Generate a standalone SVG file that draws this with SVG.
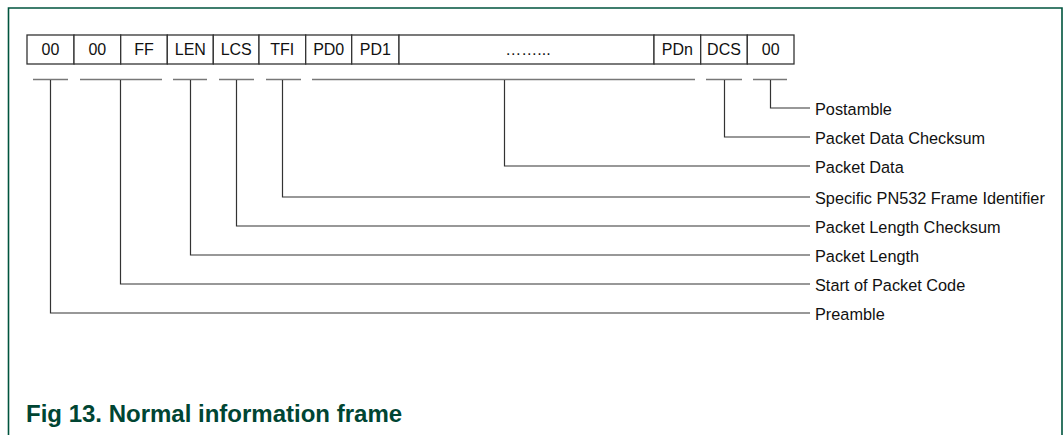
<svg xmlns="http://www.w3.org/2000/svg" width="1064" height="435" viewBox="0 0 1064 435">
<style>
.cell{fill:#fff;stroke:#333;stroke-width:1.3}
.ct{font-family:"Liberation Sans",Arial,sans-serif;font-size:16px;fill:#111;text-anchor:middle}
.ul{stroke:#777;stroke-width:1.6;fill:none}
.ld{stroke:#333;stroke-width:1.2;fill:none}
.lb{font-family:"Liberation Sans",Arial,sans-serif;font-size:16.3px;fill:#111}
.title{font-family:"Liberation Sans",Arial,sans-serif;font-size:24px;font-weight:bold;fill:#004533}
</style>
<rect width="1064" height="435" fill="#fff"/>
<path d="M8.5,435 V8 H1062 V435" fill="none" stroke="#00543e" stroke-width="1.6"/>
<g id="frame">
<g id="c1"><rect class="cell" x="27" y="35" width="47" height="29"/><text class="ct" x="50.5" y="55">00</text></g>
<g id="c2"><rect class="cell" x="74" y="35" width="46.7" height="29"/><text class="ct" x="97.3" y="55">00</text></g>
<g id="c3"><rect class="cell" x="120.7" y="35" width="46.6" height="29"/><text class="ct" x="144" y="55">FF</text></g>
<g id="c4"><rect class="cell" x="167.3" y="35" width="46" height="29"/><text class="ct" x="190.3" y="55">LEN</text></g>
<g id="c5"><rect class="cell" x="213.3" y="35" width="45.7" height="29"/><text class="ct" x="236.2" y="55">LCS</text></g>
<g id="c6"><rect class="cell" x="259" y="35" width="46.7" height="29"/><text class="ct" x="282.3" y="55">TFI</text></g>
<g id="c7"><rect class="cell" x="305.7" y="35" width="46" height="29"/><text class="ct" x="328.7" y="55">PD0</text></g>
<g id="c8"><rect class="cell" x="351.7" y="35" width="47.3" height="29"/><text class="ct" x="375.3" y="55">PD1</text></g>
<g id="c9"><rect class="cell" x="399" y="35" width="255" height="29"/><text class="ct" x="528" y="55">……...</text></g>
<g id="c10"><rect class="cell" x="654" y="35" width="46.7" height="29"/><text class="ct" x="677.3" y="55">PDn</text></g>
<g id="c11"><rect class="cell" x="700.7" y="35" width="46.6" height="29"/><text class="ct" x="724" y="55">DCS</text></g>
<g id="c12"><rect class="cell" x="747.3" y="35" width="46.7" height="29"/><text class="ct" x="770.7" y="55">00</text></g>
</g>
<g id="connectors">
<path class="ul" d="M33,79.5H68 M80,79.5H162 M173,79.5H207 M219,79.5H254 M266,79.5H301 M312,79.5H695 M706,79.5H742 M753,79.5H787"/>
<path class="ld" d="M770.5,80V108H810"/>
<path class="ld" d="M724.5,80V137H810"/>
<path class="ld" d="M504.5,80V166H810"/>
<path class="ld" d="M282.5,80V197H810"/>
<path class="ld" d="M236.5,80V226H810"/>
<path class="ld" d="M190.5,80V255H810"/>
<path class="ld" d="M120.5,80V284H810"/>
<path class="ld" d="M50.5,80V313H810"/>
</g>
<g id="labels">
<g id="l1"><text class="lb" x="815" y="114.5">Postamble</text></g>
<g id="l2"><text class="lb" x="815" y="143.5">Packet Data Checksum</text></g>
<g id="l3"><text class="lb" x="815" y="172.5">Packet Data</text></g>
<g id="l4"><text class="lb" x="815" y="203.5">Specific PN532 Frame Identifier</text></g>
<g id="l5"><text class="lb" x="815" y="232.5">Packet Length Checksum</text></g>
<g id="l6"><text class="lb" x="815" y="261.5">Packet Length</text></g>
<g id="l7"><text class="lb" x="815" y="290.5">Start of Packet Code</text></g>
<g id="l8"><text class="lb" x="815" y="319.5">Preamble</text></g>
</g>
<text class="title" x="26" y="422">Fig 13. Normal information frame</text>
</svg>
